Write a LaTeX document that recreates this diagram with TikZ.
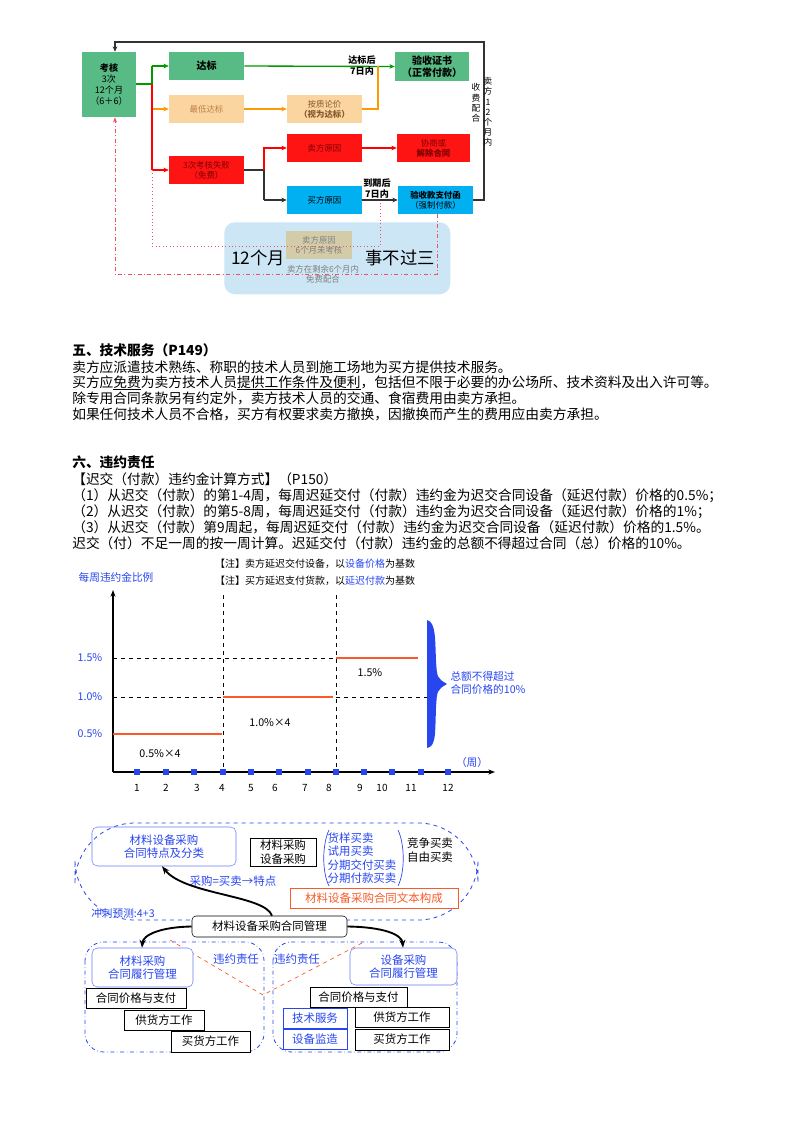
\documentclass[tikz,border=0pt]{standalone}
\usepackage{fontspec}
\setmainfont{Noto Sans CJK SC}
\usetikzlibrary{arrows.meta}
\definecolor{gfill}{RGB}{88,186,132}
\definecolor{ofill}{RGB}{250,213,160}
\definecolor{rfill}{RGB}{255,20,20}
\definecolor{bfill}{RGB}{0,176,240}
\definecolor{lbfill}{RGB}{204,230,245}
\definecolor{tfill}{RGB}{212,204,168}
\definecolor{mblue}{RGB}{40,70,240}
\definecolor{morange}{RGB}{250,90,40}
\definecolor{pinkd}{RGB}{240,80,100}
\newcommand{\myfs}[1]{\fontsize{#1}{1.18\dimexpr #1pt\relax}\selectfont}
\newcommand{\myul}[1]{\setbox0\hbox{#1}\rlap{\rule[-2pt]{\wd0}{0.7pt}}\box0}
\tikzset{
 fc/.style={inner sep=0pt,align=center,font=\myfs{6.3}},
 tl/.style={anchor=west,inner sep=0pt,font=\myfs{10.3}},
 arr/.style={-{Stealth[length=4pt,width=3.5pt]},line width=1pt},
 mm/.style={draw,inner sep=1pt,align=center,font=\myfs{8.6}},
 mmb/.style={draw=mblue,text=mblue,inner sep=1pt,align=center,font=\myfs{8.6}},
}
\begin{document}
\begin{tikzpicture}[x=0.75pt,y=-0.75pt]
\useasboundingbox (0,0) rectangle (800,1132);
\fill[white] (0,0) rectangle (800,1132);
% ---------- flowchart ----------
\node[fill=lbfill,rounded corners=8pt,minimum width=226*0.75pt,minimum height=72*0.75pt,anchor=north west] (bg) at (224,222) {};
\node[fill=tfill,fc,text=gray,minimum width=66*0.75pt,minimum height=28*0.75pt] (u6) at (319,245) {卖方原因\\6个月未考核};
\node[inner sep=0pt,font=\myfs{13}] (t12) at (258,258) {12个月};
\node[inner sep=0pt,font=\myfs{13}] (tsb) at (400,258) {事不过三};
\node[fc,text=gray] (tfree) at (323,274) {卖方在剩余6个月内\\免费配合};
\node[fill=gfill,fc,font=\myfs{6.8},minimum width=54*0.75pt,minimum height=65*0.75pt] (kh) at (109,84.5) {\textbf{考核}\\3次\\12个月\\（6＋6）};
\node[fill=gfill,fc,font=\myfs{7.5}\bfseries,minimum width=75*0.75pt,minimum height=28*0.75pt] (db) at (206.5,66) {达标};
\node[fill=gfill,fc,font=\myfs{7.5}\bfseries,minimum width=74*0.75pt,minimum height=29*0.75pt] (ys) at (432,66.5) {验收证书\\（正常付款）};
\node[fill=ofill,fc,text=brown,minimum width=75*0.75pt,minimum height=28*0.75pt] (zd) at (206.5,109) {最低达标};
\node[fill=ofill,fc,text=brown!70!black,minimum width=75*0.75pt,minimum height=28*0.75pt] (az) at (324.5,109) {按质论价\\\textbf{（视为达标）}};
\node[fill=rfill,fc,text=red!50!black,minimum width=75*0.75pt,minimum height=28*0.75pt] (mf) at (324.5,148) {卖方原因};
\node[fill=rfill,fc,text=red!50!black,minimum width=73*0.75pt,minimum height=28*0.75pt] (xs) at (433.5,148) {协商或\\\textbf{解除合同}};
\node[fill=rfill,fc,text=red!50!black,minimum width=75*0.75pt,minimum height=28*0.75pt] (sb) at (206.5,170) {3次考核失败\\（免费）};
\node[fill=bfill,fc,minimum width=75*0.75pt,minimum height=28*0.75pt] (mr) at (324.5,200) {买方原因};
\node[fill=bfill,fc,minimum width=75*0.75pt,minimum height=28*0.75pt] (zf) at (435.5,200) {\textbf{验收款支付函}\\（强制付款）};
\coordinate (j1) at (152,84);
\draw[green!60!black,line width=1pt] (kh.east|-j1) -- (j1);
\draw[green!60!black,line width=1pt] (152,84) -- (152,66);
\draw[arr,green!60!black] (152,66) -- (db.west);
\draw[arr,orange!80!yellow,line width=0.8pt] (152,109) -- (zd.west);
\draw[red,line width=0.8pt] (152,84) -- (152,170);
\draw[arr,red,line width=0.8pt] (152,170) -- (sb.west);
\draw[arr,green!60!black] (db.east) -- (ys.west);
\draw[arr,orange!80!yellow,line width=0.8pt] (zd.east) -- (az.west);
\draw[orange!80!yellow,line width=0.8pt] (az.east) -| (378,66);
\draw[black!80,line width=1pt] (sb.east) -- (264,170) -- (264,200);
\draw[arr,red,line width=0.8pt] (264,170) |- (mf.west);
\draw[arr,black!80] (264,200) -- (mr.west);
\draw[arr,red,line width=0.8pt] (mf.east) -- (xs.west);
\draw[arr,black!80] (mr.east) -- (zf.west);
\node[fc,font=\myfs{6.8}\bfseries] (t7a) at (362,65.5) {达标后\\7日内};
\node[fc,font=\myfs{6.8}\bfseries] (t7b) at (377,188.5) {到期后\\7日内};
\draw[arr,black!80,line width=1.2pt] (zf.east) -- (484,200) -- (484,42) -- (115,42) -- (kh.north-|115,0);
\node[fc,font=\myfs{6.5}] (v1) at (488,112) {卖\\方\\1\\2\\个\\月\\内};
\node[fc,font=\myfs{6.5}] (v2) at (476,103) {收\\费\\配\\合};
\draw[pinkd,dash dot,line width=0.6pt,-{Stealth[length=4pt]}] (zf.south-|437,0) -- (437,274) -- (115,274) -- (kh.south-|115,0);
\draw[pinkd,dotted,line width=0.6pt] (152,170) -- (152,246) -- (380,246) -- (380,200);
% ---------- text ----------
\node[tl,font=\myfs{10.3}\bfseries] (h5) at (72,350) {五、技术服务（P149）};
\node[tl] (l1) at (72,367) {卖方应派遣技术熟练、称职的技术人员到施工场地为买方提供技术服务。};
\node[tl] (l2) at (72,383) {买方应\myul{免费}为卖方技术人员\myul{提供工作条件及便利}，包括但不限于必要的办公场所、技术资料及出入许可等。};
\node[tl] (l3) at (72,398) {除专用合同条款另有约定外，卖方技术人员的交通、食宿费用由卖方承担。};
\node[tl] (l4) at (72,414) {如果任何技术人员不合格，买方有权要求卖方撤换，因撤换而产生的费用应由卖方承担。};
\node[tl,font=\myfs{10.3}\bfseries] (h6) at (72,462) {六、违约责任};
\node[tl] (l5) at (72,479) {【迟交（付款）违约金计算方式】（P150）};
\node[tl] (l6) at (72,496) {（1）从迟交（付款）的第1-4周，每周迟延交付（付款）违约金为迟交合同设备（延迟付款）价格的0.5\%；};
\node[tl] (l7) at (72,512) {（2）从迟交（付款）的第5-8周，每周迟延交付（付款）违约金为迟交合同设备（延迟付款）价格的1\%；};
\node[tl] (l8) at (72,527) {（3）从迟交（付款）第9周起，每周迟延交付（付款）违约金为迟交合同设备（延迟付款）价格的1.5\%。};
\node[tl] (l9) at (72,543) {迟交（付）不足一周的按一周计算。迟延交付（付款）违约金的总额不得超过合同（总）价格的10\%。};
% ---------- chart ----------
\node[inner sep=0pt,font=\myfs{7.5}] (n1) at (315,564) {【注】卖方延迟交付设备，以\textcolor{mblue}{设备价格}为基数};
\node[inner sep=0pt,font=\myfs{7.5}] (n2) at (315,581) {【注】买方延迟支付货款，以\textcolor{mblue}{延迟付款}为基数};
\node[inner sep=0pt,text=mblue,font=\myfs{8}] (yl) at (116,577) {每周违约金比例};
\coordinate (o) at (113,772);
\draw[-{Stealth[length=5pt]},line width=0.8pt] (o) -- (113,590);
\draw[-{Stealth[length=5pt]},line width=0.8pt] (o) -- (495,772);
\draw[dashed,line width=0.4pt] (223,595) -- (223,772) (336,595) -- (336,772);
\draw[dashed,line width=0.5pt] (113,658) -- (336,658) (113,697) -- (223,697) (336,697) -- (432,697);
\draw[morange,line width=1pt] (113,734) -- (222,734) (223,697) -- (333,697) (336,658) -- (418,658);
\foreach \x in {137,166,194,223,251,279,308,336,364,392,421,448}
  \fill[mblue] (\x-3,769) rectangle (\x+3,775);
\foreach \x/\l in {137/1,166/2,197/3,222/4,251/5,275/6,305/7,329/8,360/9,382/10,411/11,448/12}
  \node[inner sep=0pt,font=\myfs{7.5}] at (\x,788) {\l};
\node[inner sep=0pt,text=mblue,font=\myfs{8}] (p15) at (90,658) {1.5\%};
\node[inner sep=0pt,text=mblue,font=\myfs{8}] (p10) at (90,697) {1.0\%};
\node[inner sep=0pt,text=mblue,font=\myfs{8}] (p05) at (90,734) {0.5\%};
\node[inner sep=0pt,font=\myfs{8}] (s1) at (160,754) {0.5\%×4};
\node[inner sep=0pt,font=\myfs{8}] (s2) at (270,723) {1.0\%×4};
\node[inner sep=0pt,font=\myfs{8}] (s3) at (370,673) {1.5\%};
\node[inner sep=0pt,text=mblue,font=\myfs{8}] (wk) at (472,762) {（周）};
\fill[mblue] (427,620) .. controls (436,622) and (435,640) .. (436,660) .. controls (437,678) .. (447,684) .. controls (437,690) .. (436,708) .. controls (435,735) and (436,746) .. (427,748) -- cycle;
\node[inner sep=0pt,text=mblue,font=\myfs{8},align=left] (tot) at (488,683) {总额不得超过\\合同价格的10\%};
% ---------- mind map ----------
\draw[mblue,dashed,line width=0.6pt,rounded corners=45pt] (75,823) rectangle (478,920);
\node[mmb,draw=mblue!70,rounded corners=4pt,minimum width=144*0.75pt,minimum height=39*0.75pt] (tz) at (164,846.5) {材料设备采购\\合同特点及分类};
\node[mm,fill=white,minimum width=66*0.75pt,minimum height=28*0.75pt] (cs) at (283,852) {材料采购\\设备采购};
\node[inner sep=0pt,text=mblue,font=\myfs{8.6},align=left] (lst) at (362,858) {货样买卖\\试用买卖\\分期交付买卖\\分期付款买卖};
\draw[mblue,line width=0.5pt] (329,830) .. controls (322,845) and (322,872) .. (329,886);
\draw[mblue,line width=0.5pt] (398,830) .. controls (405,845) and (405,872) .. (398,886);
\node[inner sep=0pt,font=\myfs{8.6},align=left] (jz) at (430,850) {竞争买卖\\自由买卖};
\node[draw=morange,text=morange,fill=white,inner sep=1pt,font=\myfs{8.6},minimum width=168*0.75pt,minimum height=20*0.75pt] (wb) at (374,898) {材料设备采购合同文本构成};
\node[inner sep=0pt,text=mblue,font=\myfs{8.6}] (cg) at (233,881) {采购=买卖→特点};
\node[inner sep=0pt,text=mblue,font=\myfs{8}] (cc) at (123,913) {冲刺预测:4+3};
\node[mm,fill=white,rounded corners=3pt,minimum width=155*0.75pt,minimum height=21*0.75pt] (gl) at (269.5,926.5) {材料设备采购合同管理};
\draw[mblue,dash dot,line width=0.6pt,rounded corners=14pt] (85,942) rectangle (264,1052);
\draw[mblue,dash dot,line width=0.6pt,rounded corners=14pt] (273,942) rectangle (457,1052);
\draw[morange,dashed,line width=0.5pt] (170,940) -- (263,995) -- (362,943);
\node[mmb,draw=mblue!70,fill=white,rounded corners=4pt,minimum width=101*0.75pt,minimum height=39*0.75pt] (cl) at (142.5,967.5) {材料采购\\合同履行管理};
\node[mmb,draw=mblue!70,fill=white,rounded corners=4pt,minimum width=107*0.75pt,minimum height=37*0.75pt] (sbm) at (403.5,966.5) {设备采购\\合同履行管理};
\node[inner sep=0pt,text=mblue,font=\myfs{8.6}] (wy1) at (236,959) {违约责任};
\node[inner sep=0pt,text=mblue,font=\myfs{8.6}] (wy2) at (297,959) {违约责任};
\node[mm,fill=white,minimum width=100*0.75pt,minimum height=20*0.75pt] (a1) at (136,998) {合同价格与支付};
\node[mm,fill=white,minimum width=80*0.75pt,minimum height=20*0.75pt] (a2) at (164,1020) {供货方工作};
\node[mm,fill=white,minimum width=79*0.75pt,minimum height=21*0.75pt] (a3) at (210.5,1041.5) {买货方工作};
\node[mm,fill=white,minimum width=97*0.75pt,minimum height=20*0.75pt] (b1) at (358.5,997) {合同价格与支付};
\node[mmb,fill=white,minimum width=64*0.75pt,minimum height=20*0.75pt] (b2) at (315,1018) {技术服务};
\node[mmb,fill=white,minimum width=64*0.75pt,minimum height=20*0.75pt] (b3) at (315,1039) {设备监造};
\node[mm,fill=white,minimum width=94*0.75pt,minimum height=20*0.75pt] (b4) at (402,1017) {供货方工作};
\node[mm,fill=white,minimum width=94*0.75pt,minimum height=21*0.75pt] (b5) at (402,1039.5) {买货方工作};
\draw[-{Stealth[length=6pt]},line width=1.4pt] (gl.north-|272,0) .. controls (265,895) and (185,895) .. (tz.south-|162,0);
\draw[-{Stealth[length=6pt]},line width=1.4pt] (gl.west) .. controls (160,927) and (143,935) .. (cl.north-|142,0);
\draw[-{Stealth[length=6pt]},line width=1.4pt] (gl.east) .. controls (385,927) and (402,935) .. (sbm.north-|403,0);
\end{tikzpicture}
\end{document}
